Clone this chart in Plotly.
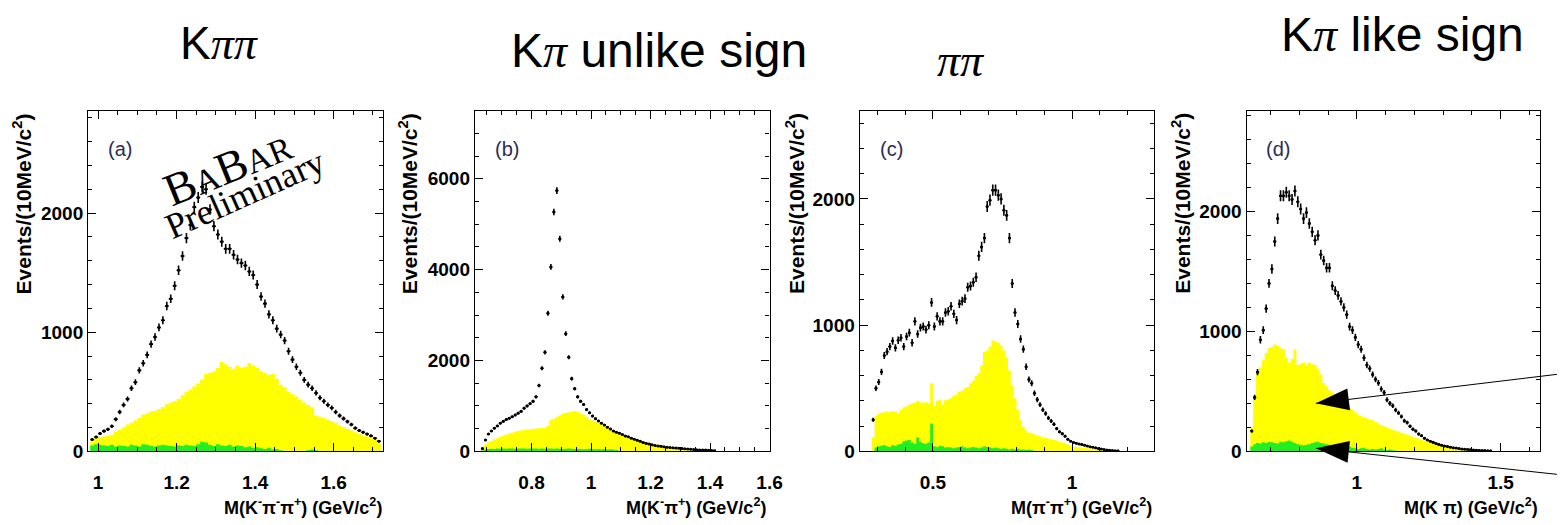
import numpy as np
import plotly.graph_objects as go

W, H = 1568, 525
BIN = 0.01  # 10 MeV/c^2 bins

# ---------------- (a) M(K- pi- pi+) ----------------
a_lo = 0.98
events_a = [100, 120, 150, 170, 185, 210, 270, 330, 390, 440,
            530, 580, 680, 740, 810, 900, 960, 1040, 1100, 1220,
            1280, 1390, 1520, 1640, 1790, 1900, 2050, 2130, 2220, 2200,
            2030, 1890, 1820, 1760, 1700, 1700, 1650, 1610, 1580, 1560,
            1510, 1480, 1400, 1300, 1240, 1150, 1100, 1030, 980, 930,
            840, 770, 710, 660, 600, 560, 530, 490, 450, 420,
            390, 365, 330, 300, 275, 250, 225, 195, 175, 160,
            145, 130, 110, 85]
yellow_a = [80, 110, 120, 125, 130, 140, 165, 180, 200, 225,
            240, 260, 280, 310, 320, 335, 340, 355, 370, 395,
            410, 420, 440, 470, 500, 520, 545, 570, 600, 650,
            660, 670, 700, 750, 730, 710, 690, 720, 700, 710,
            740, 720, 700, 670, 660, 640, 650, 610, 560, 540,
            500, 480, 460, 430, 410, 390, 370, 300, 290, 280,
            265, 255, 240, 220, 205, 190, 175, 160, 145, 130,
            125, 110, 95, 70]
green_a = [50, 60, 55, 50, 45, 55, 40, 50, 45, 40,
           55, 50, 40, 60, 55, 45, 40, 50, 55, 50,
           45, 40, 50, 45, 55, 50, 45, 60, 80, 75,
           55, 45, 60, 50, 45, 55, 40, 50, 45, 35,
           40, 30, 35, 25, 20, 30, 15, 20, 10, 0,
           0, 0, 0, 0, 0, 10, 15, 10, 0, 0,
           0, 0, 0, 0, 0, 0, 0, 0, 0, 0,
           0, 0, 0, 0]

# ---------------- (b) M(K- pi+) ----------------
b_lo = 0.63
events_b = [60, 250, 380, 450, 510, 560, 620, 660, 700, 730,
            760, 800, 840, 880, 950, 1000, 1050, 1100, 1200, 1450,
            1830, 2180, 3040, 4060, 5270, 5740, 4680, 3400, 2590, 2070,
            1600, 1380, 1200, 1100, 1030, 920, 850, 780, 720, 670,
            620, 580, 530, 490, 450, 420, 400, 370, 340, 320,
            290, 265, 245, 220, 195, 175, 160, 145, 130, 120,
            110, 100, 90, 85, 80, 75, 70, 65, 55, 50,
            45, 40, 35, 32, 30, 28, 25, 20, 15]
yellow_b = [60, 150, 200, 230, 260, 290, 320, 350, 370, 390,
            410, 430, 445, 460, 470, 478, 482, 490, 500, 510,
            515, 520, 560, 700, 720, 760, 790, 830, 850, 860,
            875, 880, 870, 840, 810, 760, 710, 680, 650, 630,
            610, 590, 560, 530, 470, 430, 400, 380, 350, 330,
            310, 290, 270, 250, 230, 210, 195, 180, 165, 150,
            135, 125, 110, 95, 80, 65, 50, 40, 30, 25,
            20, 10, 0, 0, 0, 0, 0, 0, 0]
green_b = [20, 40, 50, 55, 50, 60, 55, 60, 55, 60,
           65, 55, 60, 65, 60, 55, 60, 65, 60, 55,
           60, 55, 65, 60, 55, 60, 55, 50, 55, 60,
           55, 50, 55, 50, 45, 50, 55, 50, 45, 50,
           45, 50, 40, 45, 40, 30, 0, 0, 0, 0,
           0, 0, 0, 0, 0, 0, 0, 0, 0, 0,
           0, 0, 0, 0, 0, 0, 0, 0, 0, 0,
           0, 0, 0, 0, 0, 0, 0, 0, 0]

# ---------------- (c) M(pi- pi+) ----------------
c_lo = 0.28
events_c = [250, 500, 550, 630, 760, 790, 830, 875, 820, 880,
            900, 830, 910, 940, 860, 1030, 930, 980, 990, 965,
            1000, 1180, 990, 1070, 1030, 1030, 1100, 1110, 1150, 1090,
            1040, 1170, 1190, 1210, 1300, 1310, 1340, 1380, 1550, 1620,
            1690, 1940, 1990, 2070, 2070, 2030, 2000, 1910, 1870, 1690,
            1330, 1100, 1010, 890, 810, 670, 570, 540, 460, 410,
            370, 330, 300, 265, 240, 215, 180, 155, 140, 120,
            95, 80, 70, 65, 58, 55, 48, 42, 36, 32,
            28, 22, 18, 14, 10, 8, 6, 5, 4]
yellow_c = [110, 280, 300, 305, 310, 315, 310, 320, 315, 300,
            330, 350, 355, 370, 380, 385, 400, 390, 385, 390,
            380, 540, 360, 400, 410, 370, 405, 410, 420, 440,
            450, 470, 480, 500, 510, 540, 560, 600, 620, 680,
            790, 800, 830, 880, 870, 860, 840, 800, 740, 640,
            520, 420, 330, 250, 195, 165, 150, 145, 135, 125,
            120, 110, 105, 100, 95, 90, 85, 75, 70, 65,
            55, 45, 40, 35, 32, 30, 28, 25, 22, 20,
            18, 16, 14, 12, 10, 8, 6, 5, 4]
green_c = [0, 30, 40, 45, 50, 40, 35, 50, 45, 55,
           60, 80, 85, 90, 70, 60, 110, 75, 65, 60,
           70, 220, 40, 35, 45, 40, 30, 35, 30, 25,
           30, 35, 40, 30, 25, 30, 35, 30, 25, 30,
           40, 35, 30, 25, 30, 25, 20, 25, 20, 15,
           20, 15, 20, 15, 15, 10, 15, 10, 0, 0,
           0, 0, 0, 0, 0, 0, 0, 0, 0, 0,
           0, 0, 0, 0, 0, 0, 0, 0, 0, 0,
           0, 0, 0, 0, 0, 0, 0, 0, 0]

# ---------------- (d) M(K pi), like sign ----------------
d_lo = 0.63
events_d = [170, 450, 660, 930, 1010, 1190, 1400, 1520, 1750, 1940,
            2130, 2130, 2160, 2130, 2100, 2170, 2080, 2020, 1940, 1990,
            1900, 1830, 1760, 1800, 1640, 1590, 1530, 1530, 1380, 1340,
            1300, 1250, 1200, 1140, 1040, 1010, 950, 890, 850, 780,
            720, 690, 640, 600, 570, 520, 490, 430, 400, 380,
            345, 320, 290, 255, 240, 210, 185, 170, 145, 130,
            110, 95, 85, 75, 65, 58, 50, 45, 40, 35,
            30, 27, 24, 20, 18, 16, 14, 12, 10, 8,
            7, 6, 5, 4]
yellow_d = [200, 450, 650, 700, 760, 820, 860, 870, 890, 880,
            860, 850, 780, 740, 770, 850, 720, 730, 740, 720,
            740, 730, 720, 690, 640, 570, 540, 510, 490, 460,
            430, 410, 395, 380, 360, 345, 325, 305, 295, 285,
            275, 268, 260, 245, 230, 220, 210, 200, 190, 180,
            172, 165, 155, 148, 140, 130, 120, 112, 105, 95,
            88, 80, 72, 66, 60, 54, 48, 43, 38, 33,
            28, 24, 20, 17, 14, 12, 10, 8, 7, 6,
            5, 4, 3, 3]
green_d = [40, 60, 70, 65, 75, 70, 80, 75, 70, 65,
           80, 75, 85, 90, 80, 70, 60, 55, 50, 55,
           60, 70, 75, 80, 70, 65, 60, 55, 50, 45,
           40, 45, 40, 35, 40, 30, 25, 20, 25, 30,
           20, 15, 20, 15, 20, 25, 15, 10, 15, 10,
           5, 0, 0, 0, 0, 0, 0, 0, 0, 0,
           0, 0, 0, 0, 0, 0, 0, 0, 0, 0,
           0, 0, 0, 0, 0, 0, 0, 0, 0, 0,
           0, 0, 0, 0]

PI = "<span style='font-family:Liberation Serif;font-style:italic'>{}</span>"
titles = ["K" + PI.format("ππ"),
          "K" + PI.format("π") + " unlike sign",
          PI.format("ππ"),
          "K" + PI.format("π") + " like sign"]
title_sizes = [46, 48, 46, 48]
panel_tags = ["(a)", "(b)", "(c)", "(d)"]
x_titles = ["M(K<sup>-</sup>π<sup>-</sup>π<sup>+</sup>) (GeV/c<sup>2</sup>)",
            "M(K<sup>-</sup>π<sup>+</sup>) (GeV/c<sup>2</sup>)",
            "M(π<sup>-</sup>π<sup>+</sup>) (GeV/c<sup>2</sup>)",
            "M(K π) (GeV/c<sup>2</sup>)"]
y_title = "<b>Events/(10MeV/c<sup>2</sup>)</b>"

YELLOW = "#ffff00"
GREEN = "#22ee22"
FONT = "Liberation Sans, Arial, sans-serif"
SERIF = "Liberation Serif, Times New Roman, serif"


def px(x):
    return x / W


def py(y):
    return 1 - y / H


def tick_list(lo, hi, step):
    vals = np.arange(np.ceil(lo / step - 1e-9), np.floor(hi / step + 1e-9) + 1) * step
    return [round(float(v), 6) for v in vals]


# frame geometry (pixels) and axis settings for each panel
panels = [
    dict(lo=a_lo, ev=events_a, ye=yellow_a, gr=green_a, left=89, right=386,
         xr=[0.975, 1.725], yr=[0, 2860], xd=0.2, xm=0.05, yd=1000, ym=200,
         title_xy=(221, 44), ytitle_x=22, xtitle_r=387),
    dict(lo=b_lo, ev=events_b, ye=yellow_b, gr=green_b, left=479, right=776,
         xr=[0.61, 1.6], yr=[0, 7500], xd=0.2, xm=0.05, yd=2000, ym=500,
         title_xy=(665, 52), ytitle_x=411, xtitle_r=774),
    dict(lo=c_lo, ev=events_c, ye=yellow_c, gr=green_c, left=867, right=1164,
         xr=[0.237, 1.296], yr=[0, 2700], xd=0.5, xm=0.1, yd=1000, ym=200,
         title_xy=(969, 62), ytitle_x=801, xtitle_r=1164),
    dict(lo=d_lo, ev=events_d, ye=yellow_d, gr=green_d, left=1257, right=1553,
         xr=[0.617, 1.637], yr=[0, 2840], xd=0.5, xm=0.1, yd=1000, ym=200,
         title_xy=(1414, 35), ytitle_x=1191, xtitle_r=1553),
]
TOP, BOTTOM = 113, 461

fig = go.Figure()
layout = dict(width=W, height=H, margin=dict(l=0, r=0, t=0, b=0),
              paper_bgcolor="white", plot_bgcolor="white", showlegend=False)
annotations = []
shapes = []

tick_font = dict(family=FONT, size=19, color="black")

for i, p in enumerate(panels):
    sfx = "" if i == 0 else str(i + 1)
    xa, ya = "x" + sfx, "y" + sfx
    n = len(p["ev"])
    edges = p["lo"] + BIN * np.arange(n + 1)
    centers = p["lo"] + BIN * (np.arange(n) + 0.5)
    ev = np.array(p["ev"], dtype=float)

    for vals, col in ((p["ye"], YELLOW), (p["gr"], GREEN)):
        fig.add_trace(go.Scatter(
            x=edges, y=list(vals) + [vals[-1]], mode="lines",
            line=dict(shape="hv", width=0, color=col),
            fill="tozeroy", fillcolor=col, xaxis=xa, yaxis=ya, hoverinfo="skip"))

    fig.add_trace(go.Scatter(
        x=centers, y=ev, mode="markers", xaxis=xa, yaxis=ya,
        marker=dict(size=3, color="black"),
        error_x=dict(type="constant", value=BIN / 2, width=0, thickness=1.6, color="black"),
        error_y=dict(type="data", array=np.sqrt(ev), width=0, thickness=1.6, color="black")))

    common = dict(showgrid=False, zeroline=False, showline=True, linecolor="black",
                  linewidth=1.4, mirror="ticks", ticks="inside", tickcolor="black",
                  tickwidth=1.2, ticklen=8, tickfont=tick_font, tickmode="array")
    xt = tick_list(p["xr"][0], p["xr"][1], p["xd"])
    yt = tick_list(p["yr"][0], p["yr"][1], p["yd"])
    layout["xaxis" + sfx] = dict(
        common, domain=[px(p["left"]), px(p["right"])], range=p["xr"], anchor=ya,
        tickvals=xt, ticktext=[f"<b>{v:g}</b>" for v in xt], ticklabelstandoff=14,
        minor=dict(tickmode="linear", tick0=0, dtick=p["xm"], ticks="inside", ticklen=4,
                   tickcolor="black", tickwidth=1.2))
    layout["yaxis" + sfx] = dict(
        common, domain=[py(BOTTOM), py(TOP)], range=p["yr"], anchor=xa,
        tickvals=yt, ticktext=[f"<b>{int(v)}</b>" for v in yt],
        minor=dict(tickmode="linear", tick0=0, dtick=p["ym"], ticks="inside", ticklen=4,
                   tickcolor="black", tickwidth=1.2))

    tx, ty = p["title_xy"]
    annotations.append(dict(text=titles[i], x=px(tx), y=py(ty), xref="paper", yref="paper",
                            xanchor="center", yanchor="middle", showarrow=False,
                            font=dict(family=FONT, size=title_sizes[i], color="black")))
    annotations.append(dict(text=panel_tags[i], x=px(p["left"] + 32), y=py(152),
                            xref="paper", yref="paper", xanchor="center", yanchor="middle",
                            showarrow=False, font=dict(family=FONT, size=20, color="#2c2c58")))
    annotations.append(dict(text=y_title, x=px(p["ytitle_x"]), y=py(208), xref="paper",
                            yref="paper", xanchor="center", yanchor="middle", textangle=-90,
                            showarrow=False, font=dict(family=FONT, size=21, color="black")))
    annotations.append(dict(text="<b>" + x_titles[i] + "</b>", x=px(p["xtitle_r"]), y=py(517),
                            xref="paper", yref="paper", xanchor="right", yanchor="middle",
                            showarrow=False, font=dict(family=FONT, size=18, color="black")))

# BABAR Preliminary stamp on panel (a)
annotations.append(dict(text="B<span style='font-size:34px'>A</span>B<span style='font-size:34px'>AR</span>",
                        x=px(229), y=py(171), xref="paper", yref="paper", xanchor="center",
                        yanchor="middle", textangle=-22, showarrow=False,
                        font=dict(family=SERIF, size=46, color="black")))
annotations.append(dict(text="Preliminary", x=px(247), y=py(198), xref="paper", yref="paper",
                        xanchor="center", yanchor="middle", textangle=-24, showarrow=False,
                        font=dict(family=SERIF, size=36, color="black")))

# pointer arrows into panel (d): tip location in data coordinates, tail offset in pixels
pd = panels[3]
arrows = [dict(x=0.858, y=400, ax=241, ay=-29), dict(x=0.858, y=25, ax=241, ay=26)]
for a in arrows:
    tip_x = px(pd["left"]) + (a["x"] - pd["xr"][0]) / (pd["xr"][1] - pd["xr"][0]) * (px(pd["right"]) - px(pd["left"]))
    tip_y = py(BOTTOM) + (a["y"] - pd["yr"][0]) / (pd["yr"][1] - pd["yr"][0]) * (py(TOP) - py(BOTTOM))
    L = float(np.hypot(a["ax"], a["ay"]))
    ux, uy = a["ax"] / L, -a["ay"] / L      # direction to the tail, y pointing up
    vx, vy = -uy, ux                        # perpendicular
    hl, hw = 33, 11
    p1 = (hl * ux + hw * vx, hl * uy + hw * vy)
    p2 = (hl * ux - hw * vx, hl * uy - hw * vy)
    # pointer line
    shapes.append(dict(type="line", xref="paper", yref="paper", xsizemode="pixel",
                       ysizemode="pixel", xanchor=tip_x, yanchor=tip_y,
                       x0=0, y0=0, x1=a["ax"], y1=-a["ay"],
                       line=dict(color="black", width=1), layer="above"))
    # solid triangular head aligned with the pointer line
    shapes.append(dict(type="path", xref="paper", yref="paper", xsizemode="pixel",
                       ysizemode="pixel", xanchor=tip_x, yanchor=tip_y,
                       path=f"M0,0 L{p1[0]:.1f},{p1[1]:.1f} L{p2[0]:.1f},{p2[1]:.1f} Z",
                       fillcolor="black", line=dict(width=0), layer="above"))

layout["annotations"] = annotations
layout["shapes"] = shapes
fig.update_layout(**layout)
fig.write_html("out.html")
